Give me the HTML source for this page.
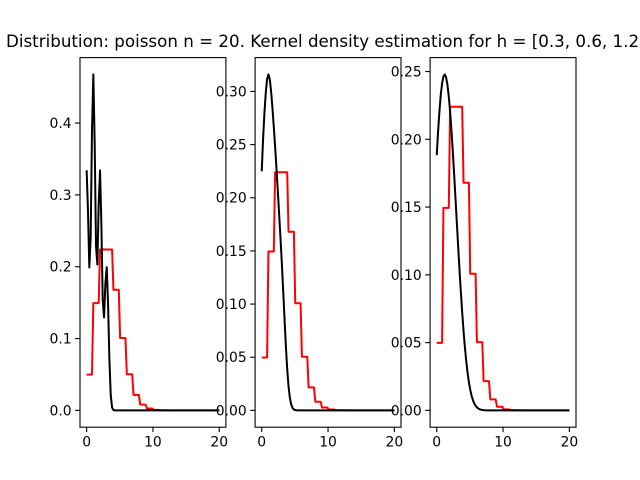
<!DOCTYPE html>
<html><head><meta charset="utf-8"><style>
body{margin:0;background:#fff}
svg{display:block;font-family:"DejaVu Sans","Liberation Sans",sans-serif}
</style></head><body>
<svg id="fig" width="640" height="480" viewBox="0 0 640 480">
<rect width="640" height="480" fill="#fff"/>
<text x="6" y="47" font-size="16.7" fill="#000">Distribution: poisson n = 20. Kernel density estimation for h = [0.3, 0.6, 1.2]</text>
</svg>
<script>
const pmfValues = [0.0498,0.1494,0.2240,0.2240,0.1680,0.1008,0.0504,0.0216,0.0081,0.0027,0.0008,0.0002,0.0001,0,0,0,0,0,0,0,0];
const sampleValues = [0,1,2,3];
const sampleCounts = [5,7,5,3];
const bandwidths = [0.3,0.6,1.2];
const yTickLabels = [["0.0","0.1","0.2","0.3","0.4"],["0.00","0.05","0.10","0.15","0.20","0.25","0.30"],["0.00","0.05","0.10","0.15","0.20","0.25"]];
const xTickLabels = ["0","10","20"];

const NS="http://www.w3.org/2000/svg";
const svgEl=document.getElementById('fig');
function mk(tag,attrs,parent){const e=document.createElementNS(NS,tag);for(const k in attrs)e.setAttribute(k,attrs[k]);(parent||svgEl).appendChild(e);return e;}
const N=100, xs=[];
for(let i=0;i<N;i++)xs.push(20*i/(N-1));
const total=sampleCounts.reduce((a,b)=>a+b,0);
function kde(x,h){let s=0;for(let j=0;j<sampleValues.length;j++){const u=(x-sampleValues[j])/h;s+=sampleCounts[j]/total*Math.exp(-u*u/2);}return s/(h*Math.sqrt(2*Math.PI));}
const redY=xs.map(x=>pmfValues[Math.min(20,Math.floor(x))]);
const lefts=[80,255.1,430.1], W=145.9, axTop=57.6, axBottom=427.2;
bandwidths.forEach((h,k)=>{
  const kY=xs.map(x=>kde(x,h));
  const ymax=Math.max(...kY,...redY);
  const y0=-0.05*ymax, y1=1.05*ymax;
  const L=lefts[k];
  const sx=v=>L+(v+1)/22*W;
  const sy=v=>axBottom-(v-y0)/(y1-y0)*(axBottom-axTop);
  const g=mk('g',{});
  
  
  const step=k===0?0.1:0.05;
  yTickLabels[k].forEach((lab,i)=>{
    const y=sy(i*step);
    mk('line',{x1:L-4.9,x2:L,y1:y,y2:y,stroke:'#000','stroke-width':1.1},g);
    const t=mk('text',{x:L-8.4,y:y+5,'font-size':13.9,'text-anchor':'end'},g);
    t.textContent=lab;
    
    
  });
  xTickLabels.forEach(lab=>{
    const x=sx(+lab);
    mk('line',{x1:x,x2:x,y1:axBottom,y2:axBottom+4.9,stroke:'#000','stroke-width':1.1},g);
    const t=mk('text',{x:x,y:axBottom+19.5,'font-size':13.9,'text-anchor':'middle'},g);
    t.textContent=lab;
    
    
  });
  const red=mk('polyline',{points:xs.map((x,i)=>sx(x).toFixed(2)+','+sy(redY[i]).toFixed(2)).join(' '),fill:'none',stroke:'#ff0000','stroke-width':2,'stroke-linejoin':'round'},g);
  
  
  const blk=mk('polyline',{points:xs.map((x,i)=>sx(x).toFixed(2)+','+sy(kY[i]).toFixed(2)).join(' '),fill:'none',stroke:'#000','stroke-width':2,'stroke-linejoin':'round'},g);
  
  
  const fr=mk('rect',{x:L,y:axTop,width:W,height:axBottom-axTop,fill:'none',stroke:'#000','stroke-width':1.1},g);
  
  
});
</script>
</body></html>
